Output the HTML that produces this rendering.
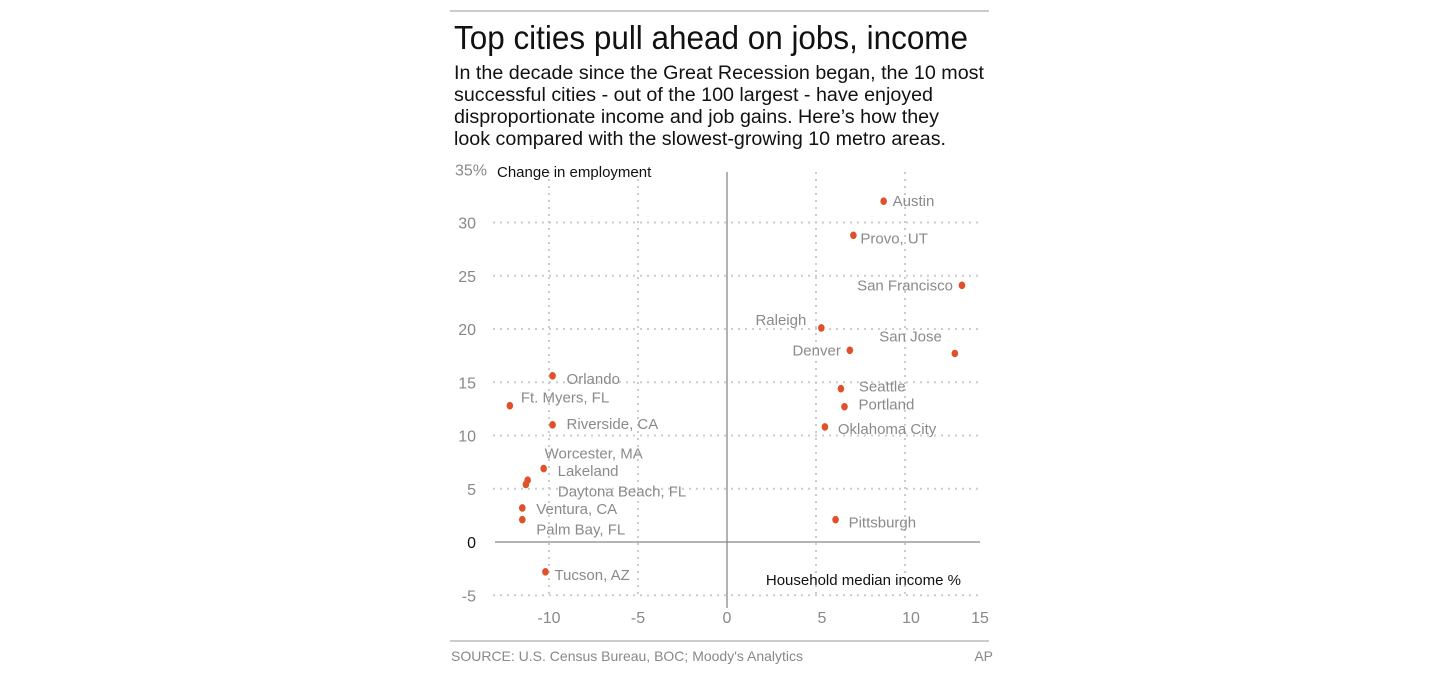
<!DOCTYPE html>
<html><head><meta charset="utf-8"><style>
html,body{margin:0;padding:0;background:#fff;}
svg{display:block;font-family:"Liberation Sans",Arial,sans-serif;}
</style></head><body>
<svg id="chart" width="1440" height="677" viewBox="0 0 1440 677" xmlns="http://www.w3.org/2000/svg">
<line x1="450" y1="11" x2="989" y2="11" stroke="#bbb" stroke-width="1.5"/>
<text x="454" y="49" font-size="33" fill="#111" textLength="514" lengthAdjust="spacingAndGlyphs">Top cities pull ahead on jobs, income</text>
<g font-size="19" fill="#111">
<text x="454" y="79" textLength="530" lengthAdjust="spacingAndGlyphs">In the decade since the Great Recession began, the 10 most</text>
<text x="454" y="101" textLength="479" lengthAdjust="spacingAndGlyphs">successful cities - out of the 100 largest - have enjoyed</text>
<text x="454" y="123" textLength="485" lengthAdjust="spacingAndGlyphs">disproportionate income and job gains. Here’s how they</text>
<text x="454" y="145" textLength="492" lengthAdjust="spacingAndGlyphs">look compared with the slowest-growing 10 metro areas.</text>
</g>
<g id="grid"></g>
<g id="axes"></g>
<g id="points"></g>
<text x="497" y="177" font-size="15" fill="#111">Change in employment</text>
<text x="961" y="585" font-size="15" fill="#111" text-anchor="end">Household median income %</text>
<line x1="450" y1="641" x2="989" y2="641" stroke="#bbb" stroke-width="1.5"/>
<text x="451" y="661" font-size="14" fill="#888">SOURCE: U.S. Census Bureau, BOC; Moody's Analytics</text>
<text x="993" y="661" font-size="14" fill="#888" text-anchor="end">AP</text>
</svg>
<script>
const cities = ["Austin","Provo, UT","San Francisco","Raleigh","Denver","San Jose","Seattle","Portland","Oklahoma City","Pittsburgh","Orlando","Ft. Myers, FL","Riverside, CA","Worcester, MA","Lakeland","Daytona Beach, FL","Ventura, CA","Palm Bay, FL","Tucson, AZ"];
const incomeChange = [8.8,7.1,13.2,5.3,6.9,12.8,6.4,6.6,5.5,6.1,-9.8,-12.2,-9.8,-10.3,-11.2,-11.3,-11.5,-11.5,-10.2];
const employmentChange = [32.0,28.8,24.1,20.1,18.0,17.7,14.4,12.7,10.8,2.1,15.6,12.8,11.0,6.9,5.8,5.4,3.2,2.1,-2.8];
const xTicks = [-10,-5,0,5,10,15];
const yTicks = [-5,0,5,10,15,20,25,30,35];
const yTickLabels = ["-5","0","5","10","15","20","25","30","35%"];
// label placement (layout, not data): dx, dy, anchor
const labelPos = [[9,5,"start"],[7,8,"start"],[-9,5,"end"],[-15,-3,"end"],[-9,5,"end"],[-13,-12,"end"],[18,3,"start"],[14,3,"start"],[13,7,"start"],[13,8,"start"],[14,8,"start"],[11,-3,"start"],[14,4,"start"],[1,-10,"start"],[30,-4,"start"],[32,12,"start"],[14,6,"start"],[14,15,"start"],[9,8,"start"]];
const NS="http://www.w3.org/2000/svg";
const xs=v=>727+17.8*v, ys=v=>542-10.65*v;
function mk(tag,attrs,parent){const e=document.createElementNS(NS,tag);for(const k in attrs)e.setAttribute(k,attrs[k]);parent.appendChild(e);return e;}
const grid=document.getElementById("grid"), axes=document.getElementById("axes"), pts=document.getElementById("points");
yTicks.forEach((t,i)=>{
  if(t!==0 && t!==35){const l=mk("line",{x1:493,x2:978,y1:ys(t),y2:ys(t),stroke:"#ccc","stroke-width":2,"stroke-dasharray":"2 5"},grid);
  
  }
  const tx=mk("text",{x:t===35?455:476,y:ys(t)+6,"font-size":16,fill:t===0?"#111":"#888","text-anchor":t===35?"start":"end"},axes);
  tx.textContent=yTickLabels[i];
  
  
});
xTicks.forEach(t=>{
  if(t!==0 && t!==15){const l=mk("line",{x1:xs(t),x2:xs(t),y1:172,y2:596,stroke:"#ccc","stroke-width":2,"stroke-dasharray":"2 5"},grid);
  
  }
  const tx=mk("text",{x:t===15?980:xs(t)+(t>0?6:0),y:623,"font-size":16,fill:"#888","text-anchor":"middle"},axes);
  tx.textContent=String(t);
  
  
});
const zx=mk("line",{x1:495,x2:980,y1:ys(0),y2:ys(0),stroke:"#888","stroke-width":1.3},axes);


const zy=mk("line",{x1:xs(0),x2:xs(0),y1:172,y2:608,stroke:"#888","stroke-width":1.3},axes);


cities.forEach((c,i)=>{
  const cx=xs(incomeChange[i]), cy=ys(employmentChange[i]);
  const d=mk("ellipse",{cx:cx,cy:cy,rx:3.3,ry:3.8,fill:"#e0502a"},pts);
  
  
  const p=labelPos[i];
  const t=mk("text",{x:cx+p[0],y:cy+p[1],"font-size":15,fill:"#8a8a8a","text-anchor":p[2]},pts);
  t.textContent=c;
  
  
});
</script>
</body></html>
